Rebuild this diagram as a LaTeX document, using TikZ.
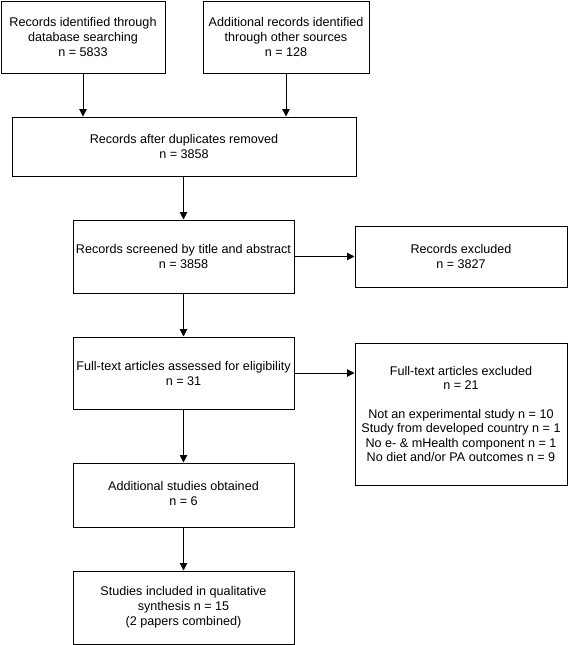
\documentclass[tikz,border=0pt]{standalone}
\usepackage{fontspec}
\setmainfont{Liberation Sans}
\usetikzlibrary{arrows.meta}
\begin{document}
\begin{tikzpicture}[x=1pt,y=-1pt,
  box/.style={draw=black, line width=1pt, rectangle, inner sep=0pt, align=center,
    font=\fontsize{12.6}{15}\selectfont},
  arr/.style={draw=black, line width=1pt, -{Triangle[length=7.5pt,width=7.5pt]}}]
\useasboundingbox (0,0) rectangle (568,645);
\node[box, minimum width=164pt, minimum height=72pt] (A) at (83,37)
  {Records identified through\\database searching\\n = 5833};
\node[box, minimum width=166pt, minimum height=72pt] (B) at (286,37)
  {Additional records identified\\through other sources\\n = 128};
\node[box, minimum width=344pt, minimum height=59pt] (C) at (184,146.5)
  {Records after duplicates removed\\n = 3858};
\node[box, minimum width=221pt, minimum height=73pt] (D) at (183.5,256.5)
  {Records screened by title and abstract\\n = 3858};
\node[box, minimum width=212pt, minimum height=61pt] (E) at (461,256.5)
  {Records excluded\\n = 3827};
\node[box, minimum width=221pt, minimum height=72pt] (F) at (183.5,373)
  {Full-text articles assessed for eligibility\\n = 31};
\node[box, minimum width=212pt, minimum height=142pt,
  font=\fontsize{12.6}{14.3}\selectfont] (G) at (461,414)
  {Full-text articles excluded\\n = 21\\[14.3pt]Not an experimental study n = 10\\Study from developed country n = 1\\No e- \& mHealth component n = 1\\No diet and/or PA outcomes n = 9};
\node[box, minimum width=221pt, minimum height=64pt] (H) at (183.5,495)
  {\raisebox{5pt}{\begin{tabular}{@{}c@{}}Additional studies obtained\\n = 6\end{tabular}}};
\node[box, minimum width=221pt, minimum height=73pt] (I) at (183.5,607.5)
  {Studies included in qualitative\\synthesis n = 15\\(2 papers combined)};
\draw[arr] (A.south) -- (A.south |- C.north);
\draw[arr] (B.south) -- (B.south |- C.north);
\draw[arr] (D.north |- C.south) -- (D.north);
\draw[arr] (D.east) -- (E.west);
\draw[arr] (D.south) -- (F.north);
\draw[arr] (F.east) -- (F.east -| G.west);
\draw[arr] (F.south) -- (H.north);
\draw[arr] (H.south) -- (I.north);
\end{tikzpicture}
\end{document}
